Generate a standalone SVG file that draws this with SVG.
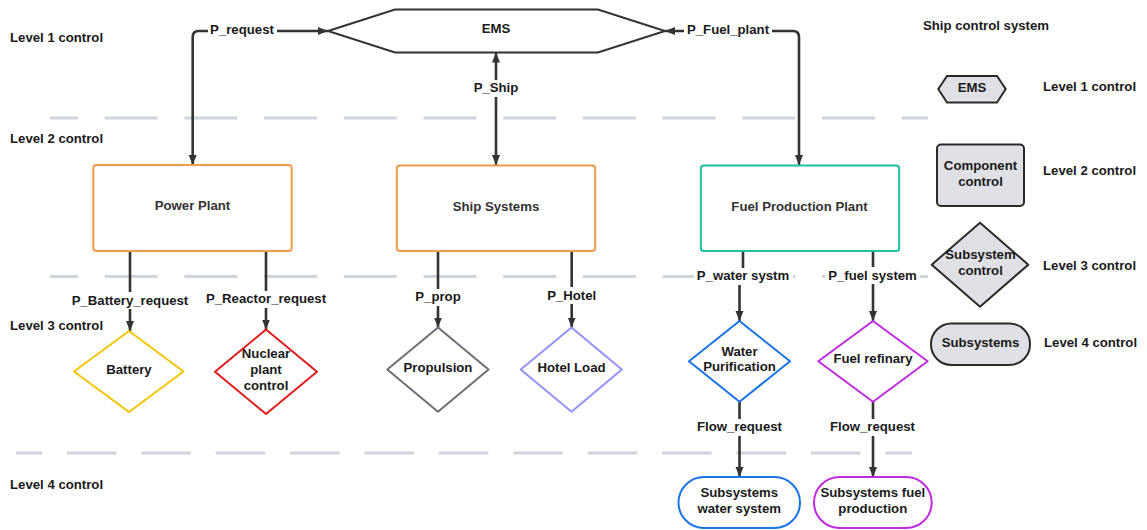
<svg xmlns="http://www.w3.org/2000/svg" width="1147" height="530" viewBox="0 0 1147 530">
<style>
text{font-family:"Liberation Sans",Arial,sans-serif;font-weight:bold;font-size:13.2px;fill:#1a1a1a;text-anchor:middle;dominant-baseline:central}
.lvl{text-anchor:start}
.nt{fill:#333}
.dash{stroke:#cfd4dc;stroke-width:3;fill:none}
.c{stroke:#333;stroke-width:2.6;fill:none}
.bg{fill:#fff}
.box{fill:#fff;stroke-width:2}
.leg{fill:#dee0e5;stroke:#2a2a2a;stroke-width:2}
</style>
<defs>
<marker id="ah" viewBox="0 0 10 10" refX="10" refY="5" markerWidth="10" markerHeight="10" markerUnits="userSpaceOnUse" orient="auto-start-reverse">
<path d="M0,1 L10,5 L0,9 z" fill="#333"/>
</marker>
</defs>
<rect width="1147" height="530" fill="#fff"/>

<g id="level-lines">
<line class="dash" x1="50" y1="118" x2="928" y2="118" stroke-dasharray="53 26.7" stroke-dashoffset="25"/>
<line class="dash" x1="50" y1="276.5" x2="928" y2="276.5" stroke-dasharray="53 26.7" stroke-dashoffset="25"/>
<line class="dash" x1="16" y1="453" x2="912" y2="453" stroke-dasharray="49.5 24.9" stroke-dashoffset="23.5"/>
</g>

<g id="level-labels">
<text class="lvl" x="10" y="37.5">Level 1 control</text>
<text class="lvl" x="10" y="138.5">Level 2 control</text>
<text class="lvl" x="10" y="325">Level 3 control</text>
<text class="lvl" x="10" y="484.5">Level 4 control</text>
</g>

<g id="connectors">
<path class="c" d="M192.7,165 V37 Q192.7,31 198.7,31 H328" marker-start="url(#ah)" marker-end="url(#ah)"/>
<path class="c" d="M665,31 H793 Q799,31 799,37 V165" marker-start="url(#ah)" marker-end="url(#ah)"/>
<path class="c" d="M496,52.5 V165" marker-start="url(#ah)" marker-end="url(#ah)"/>
<path class="c" d="M130,251 V331" marker-end="url(#ah)"/>
<path class="c" d="M266,251 V329.5" marker-end="url(#ah)"/>
<path class="c" d="M438,251 V327.5" marker-end="url(#ah)"/>
<path class="c" d="M571.7,251 V327.5" marker-end="url(#ah)"/>
<path class="c" d="M743,251 V276 H739.5 V321" marker-end="url(#ah)"/>
<path class="c" d="M873,251 V321" marker-end="url(#ah)"/>
<path class="c" d="M739.5,401.7 V477" marker-end="url(#ah)"/>
<path class="c" d="M873,401.7 V477" marker-end="url(#ah)"/>
<g id="connector-labels">
<rect class="bg" x="208" y="22" width="69" height="17"/><text x="242" y="29.5">P_request</text>
<rect class="bg" x="684" y="22" width="88" height="17"/><text x="728" y="29.5">P_Fuel_plant</text>
<rect class="bg" x="471" y="80" width="50" height="17"/><text x="496" y="87.5">P_Ship</text>
<rect class="bg" x="69" y="292" width="122" height="17"/><text x="130" y="300">P_Battery_request</text>
<rect class="bg" x="204" y="291" width="124" height="17"/><text x="266" y="298.5">P_Reactor_request</text>
<rect class="bg" x="413" y="289" width="50" height="17"/><text x="438" y="296.5">P_prop</text>
<rect class="bg" x="544" y="287" width="55" height="17"/><text x="571.7" y="295">P_Hotel</text>
<rect class="bg" x="694" y="268" width="99" height="17"/><text x="743" y="275.5">P_water systm</text>
<rect class="bg" x="825" y="267" width="95" height="17"/><text x="872.5" y="275">P_fuel system</text>
<rect class="bg" x="694" y="419" width="91" height="17"/><text x="739.5" y="426.5">Flow_request</text>
<rect class="bg" x="827" y="419" width="91" height="17"/><text x="872.5" y="426.5">Flow_request</text>
</g>
</g>

<g id="ems">
<polygon points="328,31 395,9.5 598,9.5 665,31 598,52.5 395,52.5" fill="#fff" stroke="#333" stroke-width="2"/>
<text x="496" y="28.5">EMS</text>
</g>
<g id="power-plant">
<rect class="box" x="93.3" y="165" width="198.4" height="86" rx="3" stroke="#f39c45"/>
<text class="nt" x="192.5" y="205.5">Power Plant</text>
</g>
<g id="ship-systems">
<rect class="box" x="396.8" y="165.5" width="198.4" height="85.5" rx="3" stroke="#f39c45"/>
<text class="nt" x="496" y="206.5">Ship Systems</text>
</g>
<g id="fuel-production-plant">
<rect class="box" x="700.8" y="165.5" width="198.4" height="85.5" rx="3" stroke="#1fbfa5"/>
<text class="nt" x="799.5" y="206.5">Fuel Production Plant</text>
</g>
<g id="battery">
<polygon class="box" points="129,331 183.5,371.5 129,412 74,371.5" stroke="#f5c400" stroke-linejoin="round"/>
<text x="129" y="369.5">Battery</text>
</g>
<g id="nuclear">
<polygon class="box" points="266,329.5 317,371.7 266,414 215,371.7" stroke="#e21b1b" stroke-linejoin="round"/>
<text x="266" y="353.5">Nuclear</text>
<text x="266" y="369.5">plant</text>
<text x="266" y="385.5">control</text>
</g>
<g id="propulsion">
<polygon class="box" points="438,327.5 488.5,369.5 438,411.7 387.3,369.5" stroke="#6c6f78" stroke-linejoin="round"/>
<text x="438" y="367.8">Propulsion</text>
</g>
<g id="hotel-load">
<polygon class="box" points="571.5,327.5 621.8,369.5 571.5,411.7 520.7,369.5" stroke="#9592ff" stroke-linejoin="round"/>
<text x="571.5" y="367.8">Hotel Load</text>
</g>
<g id="water-purification">
<polygon class="box" points="739.5,321 790,361.3 739.5,401.7 689,361.3" stroke="#1a73e8" stroke-linejoin="round"/>
<text x="739.5" y="351.2">Water</text>
<text x="739.5" y="366.8">Purification</text>
</g>
<g id="fuel-refinary">
<polygon class="box" points="873,321 927.7,361.3 873,401.7 818.3,361.3" stroke="#c02be2" stroke-linejoin="round"/>
<text x="873" y="358.8">Fuel refinary</text>
</g>
<g id="subsystems-water">
<rect class="box" x="678.5" y="477" width="121.5" height="51" rx="25.5" stroke="#1a73e8"/>
<text x="739.3" y="492.8">Subsystems</text>
<text x="739.3" y="508.2">water system</text>
</g>
<g id="subsystems-fuel">
<rect class="box" x="814" y="477" width="117.7" height="51" rx="25.5" stroke="#c02be2"/>
<text x="872.8" y="492.8">Subsystems fuel</text>
<text x="872.8" y="508.2">production</text>
</g>

<g id="legend">
<text x="986" y="25.5">Ship control system</text>
<g id="legend-ems">
<polygon class="leg" points="938.3,89 947,76 997,76 1005.7,89 997,102.5 947,102.5" stroke-width="1.6"/>
<text x="972" y="87.5">EMS</text>
</g>
<text class="lvl" x="1043" y="86.5">Level 1 control</text>
<g id="legend-component">
<rect class="leg" x="937" y="144.5" width="87" height="61.5" rx="4"/>
<text x="980.5" y="165.2">Component</text>
<text x="980.5" y="181.2">control</text>
</g>
<text class="lvl" x="1043" y="170.2">Level 2 control</text>
<g id="legend-subsystem-control">
<polygon class="leg" points="980,222.7 1028.3,264.7 980,306.7 931.7,264.7" stroke-linejoin="round"/>
<text x="980.5" y="254.5">Subsystem</text>
<text x="980.5" y="270.2">control</text>
</g>
<text class="lvl" x="1043" y="265.5">Level 3 control</text>
<g id="legend-subsystems">
<rect class="leg" x="931" y="323.5" width="99" height="41.5" rx="20.5"/>
<text x="980.5" y="342.2">Subsystems</text>
</g>
<text class="lvl" x="1044" y="342.8">Level 4 control</text>
</g>
</svg>
